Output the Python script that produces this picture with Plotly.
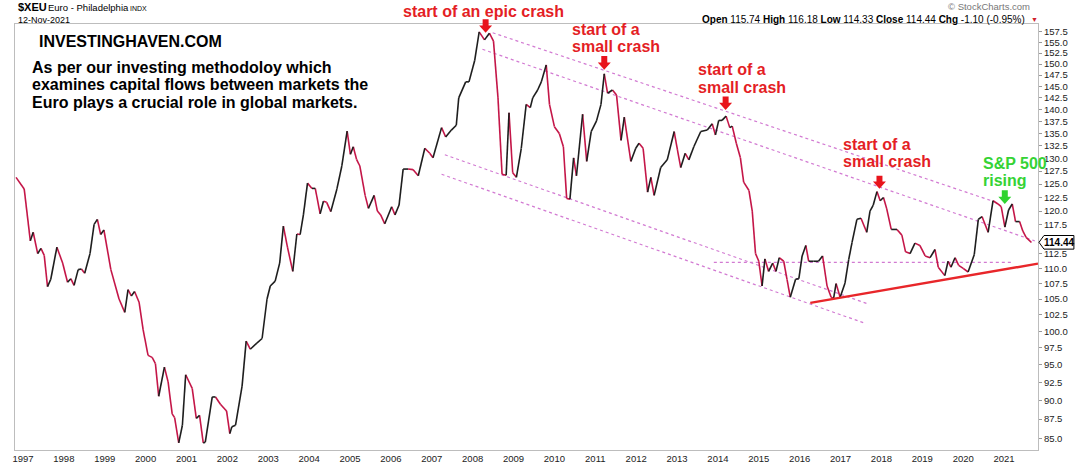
import math
import plotly.graph_objects as go

# ---------------- data ----------------
t = [1996.83, 1997.03, 1997.18, 1997.25, 1997.36, 1997.44, 1997.52, 1997.60, 1997.68, 1997.83,
     1997.97, 1998.09, 1998.17, 1998.25, 1998.35, 1998.43, 1998.51, 1998.64, 1998.74, 1998.82,
     1998.90, 1998.98, 1999.15, 1999.35, 1999.49, 1999.57, 1999.65, 1999.73, 1999.84, 1999.94,
     2000.06, 2000.16, 2000.24, 2000.32, 2000.46, 2000.55, 2000.65, 2000.71, 2000.81, 2000.90,
     2000.98, 2001.14, 2001.24, 2001.32, 2001.41, 2001.46, 2001.63, 2001.71, 2001.83, 2001.98,
     2002.06, 2002.11, 2002.20, 2002.36, 2002.46, 2002.56, 2002.72, 2002.85, 2002.97, 2003.05,
     2003.17, 2003.28, 2003.37, 2003.47, 2003.60, 2003.70, 2003.78, 2003.86, 2003.96, 2004.07,
     2004.15, 2004.27, 2004.35, 2004.43, 2004.53, 2004.68, 2004.80, 2004.93, 2005.01, 2005.08,
     2005.16, 2005.24, 2005.37, 2005.45, 2005.59, 2005.67, 2005.75, 2005.85, 2006.02, 2006.10,
     2006.20, 2006.30, 2006.42, 2006.54, 2006.67, 2006.83, 2006.95, 2007.03, 2007.24, 2007.34,
     2007.48, 2007.60, 2007.66, 2007.83, 2007.91, 2008.05, 2008.16, 2008.29, 2008.41, 2008.51,
     2008.62, 2008.72, 2008.82, 2008.89, 2008.98, 2009.07, 2009.19, 2009.31, 2009.41, 2009.47,
     2009.59, 2009.68, 2009.80, 2009.88, 2010.00, 2010.12, 2010.22, 2010.30, 2010.38, 2010.47,
     2010.54, 2010.69, 2010.79, 2010.90, 2011.03, 2011.14, 2011.22, 2011.30, 2011.42, 2011.52,
     2011.63, 2011.71, 2011.87, 2011.99, 2012.07, 2012.17, 2012.28, 2012.36, 2012.44, 2012.60,
     2012.76, 2012.93, 2013.01, 2013.09, 2013.20, 2013.29, 2013.41, 2013.58, 2013.74, 2013.86,
     2013.94, 2014.02, 2014.10, 2014.20, 2014.29, 2014.35, 2014.45, 2014.55, 2014.63, 2014.76,
     2014.84, 2014.92, 2015.00, 2015.08, 2015.15, 2015.24, 2015.34, 2015.42, 2015.50, 2015.61,
     2015.69, 2015.77, 2015.90, 2015.98, 2016.06, 2016.15, 2016.22, 2016.34, 2016.46, 2016.56,
     2016.67, 2016.77, 2016.83, 2016.89, 2016.99, 2017.11, 2017.20, 2017.28, 2017.40, 2017.50,
     2017.64, 2017.72, 2017.80, 2017.89, 2017.97, 2018.05, 2018.13, 2018.24, 2018.38, 2018.50,
     2018.59, 2018.70, 2018.82, 2018.94, 2019.07, 2019.19, 2019.31, 2019.39, 2019.55, 2019.63,
     2019.70, 2019.80, 2019.89, 2020.00, 2020.12, 2020.27, 2020.37, 2020.46, 2020.61, 2020.73,
     2020.85, 2020.93, 2021.02, 2021.11, 2021.20, 2021.28, 2021.38, 2021.46, 2021.54, 2021.67]

v = [126.3, 124.1, 114.7, 116.2, 112.5, 113.4, 112.2, 107.0, 108.2, 113.6,
     110.9, 107.7, 108.3, 107.2, 109.8, 109.9, 109.2, 112.5, 117.6, 118.5,
     115.8, 116.6, 109.8, 105.0, 102.9, 106.5, 105.5, 106.2, 104.5, 100.2,
     96.4, 96.1, 95.2, 90.6, 94.7, 92.6, 88.2, 87.7, 84.4, 86.7,
     93.6, 91.7, 87.6, 88.0, 84.4, 84.5, 90.5, 90.5, 89.5, 88.6,
     85.6, 86.5, 86.7, 92.0, 98.5, 97.3, 98.2, 98.9, 105.0, 107.1,
     107.9, 110.9, 117.3, 113.6, 109.5, 115.9, 115.8, 119.3, 125.2, 124.2,
     124.2, 119.5, 121.8, 121.6, 119.9, 124.1, 128.5, 135.5, 130.8, 132.3,
     129.8, 128.5, 122.9, 120.5, 122.9, 120.0, 119.3, 117.7, 120.8, 119.3,
     121.1, 127.9, 127.9, 127.8, 126.6, 132.0, 131.0, 130.1, 136.2, 134.3,
     135.7, 136.7, 142.5, 146.0, 146.0, 150.8, 157.5, 155.6, 157.2, 155.3,
     142.5, 126.9, 126.7, 139.3, 127.2, 126.3, 132.0, 141.1, 140.4, 142.5,
     144.2, 146.0, 149.8, 141.1, 136.4, 135.0, 132.3, 122.3, 122.2, 130.1,
     126.6, 139.0, 129.4, 135.4, 137.6, 141.1, 147.8, 143.5, 144.2, 143.1,
     133.6, 138.4, 129.4, 132.0, 133.0, 132.0, 123.5, 126.3, 122.9, 128.2,
     129.7, 135.4, 131.7, 128.2, 131.0, 129.7, 132.3, 135.4, 135.7, 137.0,
     134.7, 137.7, 137.7, 138.6, 136.2, 136.5, 133.0, 130.1, 125.4, 123.8,
     120.0, 112.5, 111.2, 107.1, 111.6, 109.5, 110.9, 109.5, 111.8, 111.2,
     108.2, 105.3, 108.2, 108.3, 112.1, 113.9, 111.2, 111.2, 111.2, 112.1,
     107.1, 105.3, 105.1, 107.5, 105.3, 107.6, 111.5, 114.4, 118.5, 118.7,
     116.2, 120.0, 121.1, 123.6, 121.9, 122.5, 120.4, 116.7, 116.7, 115.7,
     112.8, 112.5, 114.3, 113.9, 112.1, 111.8, 113.2, 110.2, 108.8, 111.2,
     110.2, 111.8, 110.5, 110.0, 109.4, 112.3, 118.5, 119.0, 116.2, 121.9,
     121.3, 120.8, 117.1, 120.2, 121.3, 118.1, 118.1, 116.4, 115.3, 114.4]

years = [1997, 1998, 1999, 2000, 2001, 2002, 2003, 2004, 2005, 2006, 2007, 2008, 2009,
         2010, 2011, 2012, 2013, 2014, 2015, 2016, 2017, 2018, 2019, 2020, 2021]
y_ticks = [85.0, 87.5, 90.0, 92.5, 95.0, 97.5, 100.0, 102.5, 105.0, 107.5, 110.0, 112.5,
           117.5, 120.0, 122.5, 125.0, 127.5, 130.0, 132.5, 135.0, 137.5, 140.0, 142.5,
           145.0, 147.5, 150.0, 152.5, 155.0, 157.5]

# drawn channel / trend lines: (start t, start v, end t, end v)
channel_lines = [
    (2008.49, 157.3, 2020.77, 121.7),
    (2008.24, 153.4, 2021.75, 114.7),
    (2007.32, 130.7, 2017.68, 104.2),
    (2007.24, 126.9, 2017.60, 101.2),
    (2013.90, 111.0, 2021.20, 111.0),
]
trend_line = (2016.26, 104.4, 2021.83, 110.8)
last_close = 114.44

# ---------------- layout geometry ----------------
W, H = 1080, 476
PL, PR, PT, PB = 14, 1040, 24, 462
X_RANGE = [1996.805, 2021.83]
Y_RANGE = [math.log10(83.5), math.log10(159.4)]

def px(xp):
    return (xp - PL) / (PR - PL)

def py(yp):
    return (PB - yp) / (PB - PT)

RED_LINE = "#c41648"
BLACK_LINE = "#1e1e1e"
TXT_RED = "#e41e25"
TXT_GREEN = "#35d335"
DOT = "#d27ad2"

fig = go.Figure()

# channel lines
for (x0, y0, x1, y1) in channel_lines:
    fig.add_trace(go.Scatter(x=[x0, x1], y=[y0, y1], mode="lines",
                             line=dict(color=DOT, width=1.2, dash="dot"),
                             hoverinfo="skip", showlegend=False))

# price line coloured by direction
up_x, up_y, dn_x, dn_y = [], [], [], []
for i in range(len(t) - 1):
    if v[i + 1] >= v[i]:
        up_x += [t[i], t[i + 1], None]
        up_y += [v[i], v[i + 1], None]
    else:
        dn_x += [t[i], t[i + 1], None]
        dn_y += [v[i], v[i + 1], None]
fig.add_trace(go.Scatter(x=dn_x, y=dn_y, mode="lines",
                         line=dict(color=RED_LINE, width=1.6),
                         hoverinfo="skip", showlegend=False))
fig.add_trace(go.Scatter(x=up_x, y=up_y, mode="lines",
                         line=dict(color=BLACK_LINE, width=1.6),
                         hoverinfo="skip", showlegend=False))

# red rising trend line
fig.add_trace(go.Scatter(x=[trend_line[0], trend_line[2]], y=[trend_line[1], trend_line[3]],
                         mode="lines", line=dict(color="#e8262a", width=2.4),
                         hoverinfo="skip", showlegend=False))

FONT = "Liberation Sans, Arial, sans-serif"
ann = []

def text(xp, yp, s, size, color="#000", bold=False, xanchor="left"):
    ann.append(dict(x=px(xp), y=py(yp), xref="paper", yref="paper", text=(f"<b>{s}</b>" if bold else s),
                    showarrow=False, xanchor=xanchor, yanchor="middle",
                    font=dict(family=FONT, size=size, color=color)))

# header
text(15, 7, "$XEU", 11, bold=True)
text(45, 7.5, "Euro - Philadelphia", 9.5)
text(127, 8, "INDX", 7)
text(15, 19.5, "12-Nov-2021", 9)
text(1034, 6.5, "© StockCharts.com", 9.5, color="#777", xanchor="right")
text(1029, 19, "<b>Open</b> 115.74 <b>High</b> 116.18 <b>Low</b> 114.33 <b>Close</b> 114.44 <b>Chg</b> -1.10 (-0.95%)",
     10, xanchor="right")
text(1031, 19.5, "▼", 7, color="#d0202a")

# commentary
text(36, 42, "INVESTINGHAVEN.COM", 16, bold=True)
text(29, 68.5, "As per our investing methodoloy which", 16, bold=True)
text(29, 86.5, "examines capital flows between markets the", 16, bold=True)
text(29, 104.5, "Euro plays a crucial role in global markets.", 16, bold=True)

text(484, 11, "start of an epic crash", 16, color=TXT_RED, bold=True, xanchor="center")
text(571, 29.5, "start of a", 16, color=TXT_RED, bold=True)
text(571, 47.5, "small crash", 16, color=TXT_RED, bold=True)
text(697, 71, "start of a", 16, color=TXT_RED, bold=True)
text(697, 89, "small crash", 16, color=TXT_RED, bold=True)
text(842, 147.5, "start of a", 16, color=TXT_RED, bold=True)
text(842, 165.5, "small crash", 16, color=TXT_RED, bold=True)
text(983, 167.5, "S&P 500", 16, color=TXT_GREEN, bold=True)
text(983, 185, "rising", 16, color=TXT_GREEN, bold=True)

shapes = []

def block_arrow(xc, ytop, ytip, color):
    sw, hw, hh = 3.0, 6.5, 7.5
    pts = [(xc - sw, ytop), (xc + sw, ytop), (xc + sw, ytip - hh), (xc + hw, ytip - hh),
           (xc, ytip), (xc - hw, ytip - hh), (xc - sw, ytip - hh)]
    path = "M " + " L ".join(f"{px(a):.5f},{py(b):.5f}" for a, b in pts) + " Z"
    shapes.append(dict(type="path", xref="paper", yref="paper", path=path,
                       fillcolor=color, line=dict(width=0), layer="above"))

block_arrow(486, 19, 33, "#e8141c")
block_arrow(605, 57, 71, "#e8141c")
block_arrow(726.7, 98.5, 112.5, "#e8141c")
block_arrow(881, 180, 193.5, "#e8141c")
block_arrow(1006.7, 195, 209, "#2fd32f")

# box around last value
yb = 32 + math.log(157.5 / last_close) * 677.8
box = [(1041, yb), (1046, yb - 7), (1076, yb - 7), (1076, yb + 7), (1046, yb + 7)]
shapes.append(dict(type="path", xref="paper", yref="paper",
                   path="M " + " L ".join(f"{px(a):.5f},{py(b):.5f}" for a, b in box) + " Z",
                   fillcolor="white", line=dict(color="#000", width=1), layer="above"))
ann.append(dict(x=px(1061), y=math.log10(last_close), xref="paper", yref="y",
                text=f"<b>{last_close:.2f}</b>", showarrow=False, xanchor="center", yanchor="middle",
                font=dict(family=FONT, size=10, color="#000")))

fig.update_layout(
    width=W, height=H,
    margin=dict(l=PL, r=W - PR, t=PT, b=H - PB, pad=0),
    paper_bgcolor="white", plot_bgcolor="white",
    showlegend=False,
    annotations=ann, shapes=shapes,
    xaxis=dict(range=X_RANGE, tickmode="array", tickvals=years, ticktext=[str(y) for y in years],
               showgrid=False, zeroline=False, showline=True, linecolor="#bdbdbd", linewidth=1,
               mirror=True, ticks="", tickfont=dict(family=FONT, size=9.5, color="#222")),
    yaxis=dict(type="log", range=Y_RANGE, side="right", tickmode="array", tickvals=y_ticks,
               ticktext=[f"{y:.1f}" for y in y_ticks], showgrid=False, zeroline=False,
               showline=True, linecolor="#bdbdbd", linewidth=1, mirror=True,
               ticks="outside", ticklen=3, tickcolor="#999",
               tickfont=dict(family=FONT, size=9.5, color="#222")),
)

fig.write_html("out.html")
